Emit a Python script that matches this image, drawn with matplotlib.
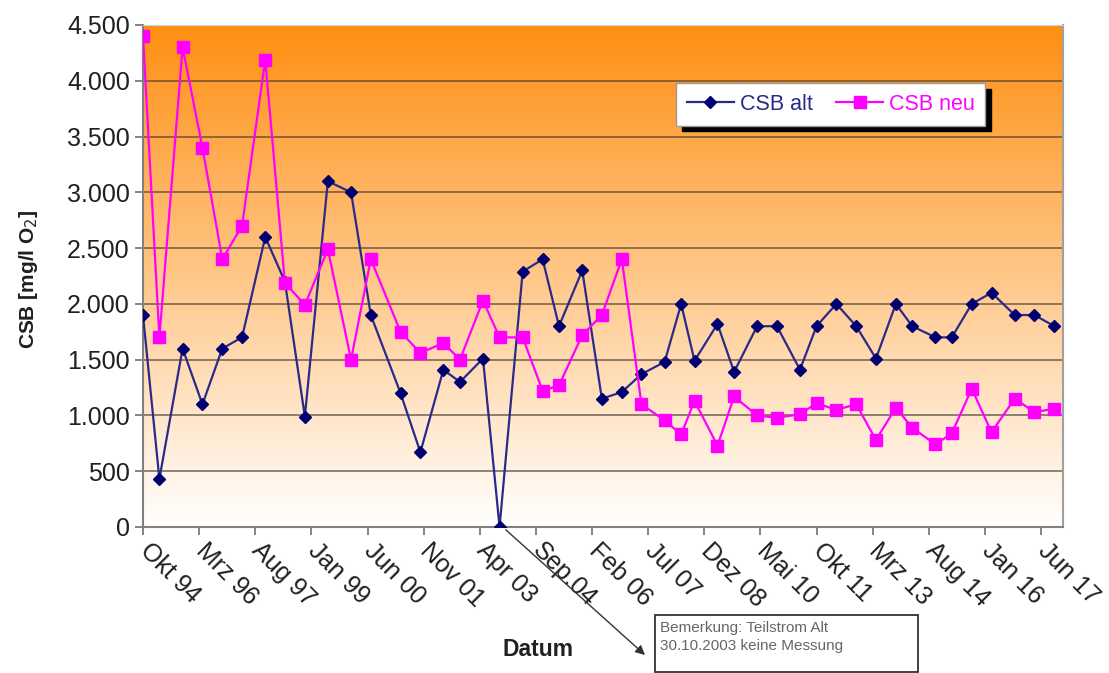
import numpy as np
import pandas as pd
from matplotlib import pyplot as plt, ticker, dates, transforms
from matplotlib.patches import Rectangle

plt.rcParams['font.family'] = ['Liberation Sans', 'DejaVu Sans']

# measurement dates (month resolution) and values
months = [
    '1994-10', '1995-03', '1995-10', '1996-04', '1996-10', '1997-04', '1997-11', '1998-05',
    '1998-11', '1999-06', '2000-01', '2000-07', '2001-04', '2001-10', '2002-05', '2002-10',
    '2003-05', '2003-10', '2004-05', '2004-11', '2005-04', '2005-11', '2006-05', '2006-11',
    '2007-05', '2007-12', '2008-05', '2008-09', '2009-04', '2009-09', '2010-04', '2010-10',
    '2011-05', '2011-10', '2012-04', '2012-10', '2013-04', '2013-10', '2014-03', '2014-10',
    '2015-03', '2015-09', '2016-03', '2016-10', '2017-04', '2017-10',
]
csb_alt = [
    1900, 430, 1600, 1100, 1600, 1700, 2600, 2200, 990, 3100,
    3000, 1900, 1200, 670, 1410, 1300, 1510, 0, 2290, 2400,
    1800, 2300, 1150, 1210, 1370, 1480, 2000, 1490, 1820, 1390,
    1800, 1800, 1410, 1800, 2000, 1800, 1510, 2000, 1800, 1700,
    1700, 2000, 2100, 1900, 1900, 1800,
]
csb_neu = [
    4400, 1700, 4300, 3400, 2400, 2700, 4190, 2190, 1990, 2490,
    1500, 2400, 1750, 1560, 1650, 1500, 2030, 1700, 1700, 1220,
    1270, 1720, 1900, 2400, 1100, 955, 830, 1130, 730, 1170,
    1000, 980, 1010, 1110, 1050, 1100, 780, 1070, 890, 740,
    840, 1240, 850, 1150, 1030, 1060,
]
tick_labels = ['Okt 94', 'Mrz 96', 'Aug 97', 'Jan 99', 'Jun 00', 'Nov 01', 'Apr 03', 'Sep.04',
               'Feb 06', 'Jul 07', 'Dez 08', 'Mai 10', 'Okt 11', 'Mrz 13', 'Aug 14', 'Jan 16', 'Jun 17']

t = pd.to_datetime(months)
tick_dates = pd.date_range('1994-10-01', periods=len(tick_labels), freq='17MS')

W, H = 1109, 673
fig = plt.figure(figsize=(W / 100, H / 100), dpi=100)
ax = fig.add_axes([143 / W, 1 - 527 / H, 920 / W, 502 / H])

x0 = dates.date2num(pd.Timestamp('1994-10-01'))
x1 = dates.date2num(pd.Timestamp('2017-12-20'))

# orange -> white gradient background
top = np.array([1.0, 0.56, 0.07])
bot = np.array([1.0, 1.0, 1.0])
f = np.linspace(0, 1, 256)[:, None]
grad = (bot * (1 - f) + top * f)[:, None, :]
ax.imshow(grad, extent=[x0, x1, 0, 4500], origin='lower', aspect='auto', zorder=0)

for y in range(500, 4501, 500):
    ax.axhline(y, color='#40362e', lw=1.1, alpha=0.75, zorder=1)

ax.plot(t, csb_alt, color='#2a2a8a', lw=1.6, marker='D', markersize=6.5,
        markerfacecolor='#000070', markeredgecolor='#000070', label='CSB alt', zorder=3)
ax.plot(t, csb_neu, color='#ff00ff', lw=1.6, marker='s', markersize=8,
        markerfacecolor='#ff00ff', markeredgecolor='#ff00ff', label='CSB neu', zorder=4)

ax.set_xlim(x0, x1)
ax.set_ylim(0, 4500)
ax.yaxis.set_major_locator(ticker.MultipleLocator(500))
ax.yaxis.set_major_formatter(ticker.FuncFormatter(lambda v, p: '{:,.0f}'.format(v).replace(',', '.')))
ax.set_xticks(tick_dates)
ax.set_xticklabels(tick_labels, rotation=-45, ha='left', va='top', rotation_mode='anchor')
ax.tick_params(axis='both', colors='#707070', labelcolor='#202020', labelsize=18, length=6, width=1.2)
ax.tick_params(axis='x', pad=2)
shift = transforms.ScaledTranslation(9 / 100, 0, fig.dpi_scale_trans)
for lab in ax.get_xticklabels():
    lab.set_transform(lab.get_transform() + shift)

for s in ['left', 'bottom']:
    ax.spines[s].set_color('#808080')
    ax.spines[s].set_linewidth(1.5)
ax.spines['right'].set_color('#a0a0a0')
ax.spines['right'].set_linewidth(1.5)
ax.spines['top'].set_color('#c8d4d8')

leg = ax.legend(loc='upper left', bbox_to_anchor=(533 / 920, 444 / 502), ncol=2, fontsize=15.5,
                frameon=True, fancybox=False, edgecolor='#999999', framealpha=1,
                shadow={'color': 'black', 'alpha': 1, 'ox': 4, 'oy': -4},
                handlelength=2.2, handletextpad=0.25, columnspacing=1.1,
                borderpad=0.5, borderaxespad=0)
for txt, col in zip(leg.get_texts(), ['#2a2a8a', '#ff00ff']):
    txt.set_color(col)

fig.text(29 / W, 1 - 279 / H, 'CSB [mg/l O$_2$]', rotation=90, ha='center', va='center',
         fontsize=15, fontweight='bold', color='#202020')
fig.text(538 / W, 1 - 650 / H, 'Datum', ha='center', va='center',
         fontsize=16.5, fontweight='bold', color='#202020')

# note on missing measurement
fig.patches.append(Rectangle((655 / W, 1 - 672 / H), 263 / W, 57 / H, transform=fig.transFigure,
                             fc='white', ec='#333333', lw=1.3, zorder=5))
fig.text(660 / W, 1 - 621 / H, 'Bemerkung: Teilstrom Alt\n30.10.2003 keine Messung',
         ha='left', va='top', fontsize=11, color='#666666', linespacing=1.35, zorder=6)
ax.annotate('', xy=(645 / W, 1 - 655 / H), xycoords='figure fraction',
            xytext=(dates.date2num(pd.Timestamp('2003-10-30')), 0), textcoords='data',
            arrowprops=dict(arrowstyle='-|>', color='#333333', lw=1, shrinkA=3, shrinkB=0,
                            mutation_scale=14),
            annotation_clip=False, zorder=6)

fig.savefig('out.png', dpi=100, facecolor='white')
